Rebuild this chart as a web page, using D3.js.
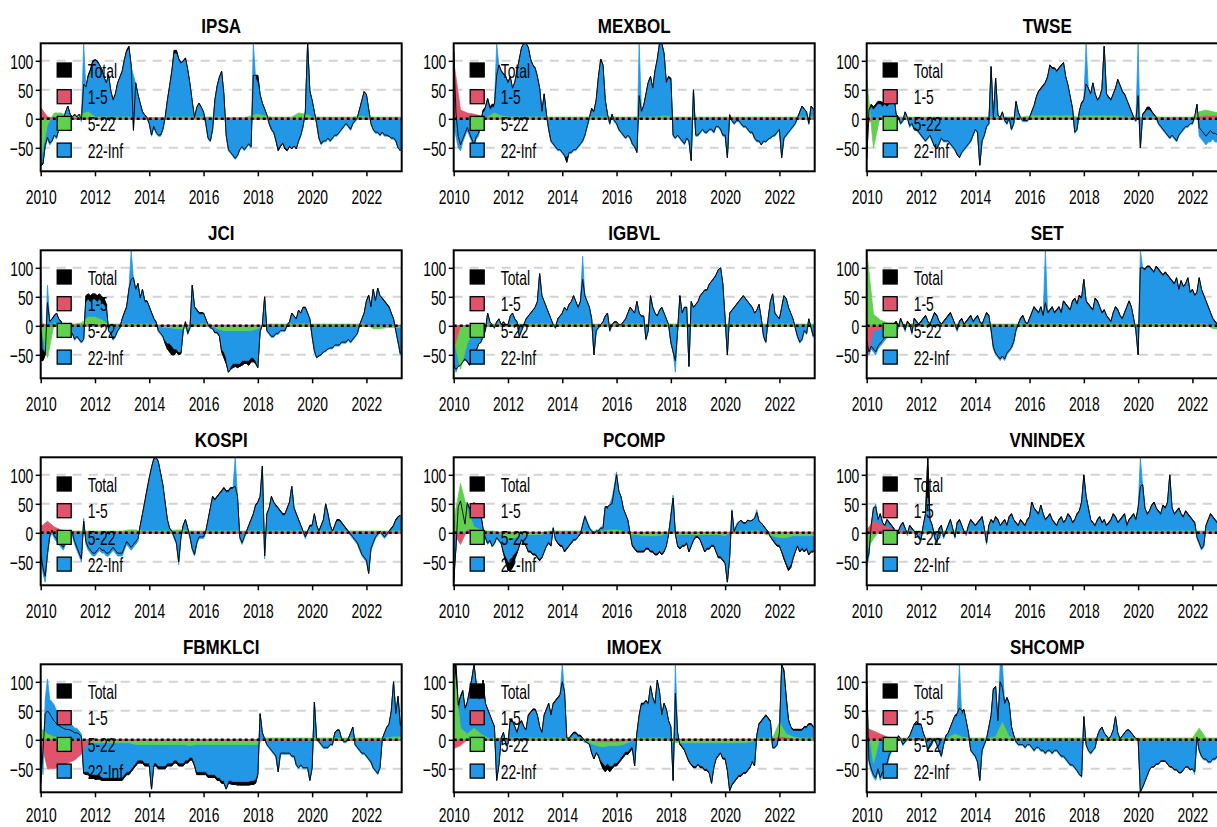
<!DOCTYPE html>
<html>
<head>
<meta charset="utf-8">
<script src="https://cdn.jsdelivr.net/npm/d3@7"></script>
<style>
  body { margin: 0; background: #fff; }
  svg { display: block; }
  text { font-family: "Liberation Sans", Arial, sans-serif; fill: #000; }
</style>
</head>
<body>
<svg id="chart" width="1217" height="827"></svg>
<script>
// Net connectedness by frequency band, 2010 - 2023.
// Monthly series (Jan 2010 .. Apr 2023, 160 values) for Total and 22-Inf,
// quarterly series (2010Q1 .. 2023Q2, 54 values) for the 1-5 and 5-22 bands.

const indexNames = ["IPSA", "MEXBOL", "TWSE", "JCI", "IGBVL", "SET",
                    "KOSPI", "PCOMP", "VNINDEX", "FBMKLCI", "IMOEX", "SHCOMP"];
const bandLabels = ["Total", "1-5", "5-22", "22-Inf"];
const bandColors = ["#000000", "#DF536B", "#61D04F", "#2297E6"];
const xTicks = [2010, 2012, 2014, 2016, 2018, 2020, 2022];
const yTicks = [-50, 0, 50, 100];

// ---------------- IPSA ----------------
const ipsaTotal = [
  -82,-78,-45,-32,-42,-38,-28,-32,-18,-12,-2,12,
  22,8,3,8,3,8,-2,60,55,75,85,100,
  102,100,93,86,72,62,76,48,33,43,62,72,
  82,102,118,125,92,-20,62,42,27,12,7,2,
  -8,-28,-13,-23,-28,-28,-18,2,32,57,83,118,
  118,104,97,100,105,85,60,30,2,20,27,20,
  12,-8,-33,-38,-18,32,57,72,82,42,-28,-53,
  -58,-63,-68,-63,-53,-48,-53,-48,-43,-48,75,75,
  75,42,27,17,7,-8,-18,-23,-38,-55,-48,-42,
  -52,-55,-48,-52,-47,-52,-38,-28,-12,12,130,48,
  32,12,-8,-33,-43,-38,-38,-33,-38,-33,-28,-28,
  -23,-18,-13,-8,-13,-18,-8,-3,2,17,32,47,
  42,17,-8,-18,-23,-23,-28,-23,-28,-28,-30,-33,
  -33,-38,-50,-55];
const ipsaLong = [
  -80,-75,-50,-35,-45,-40,-30,-35,-20,-15,-5,10,
  20,5,0,5,0,5,-5,130,50,70,80,95,
  100,97,92,85,70,60,75,45,30,40,60,70,
  80,100,115,120,90,75,60,40,25,10,5,0,
  -10,-30,-15,-25,-30,-30,-20,0,30,55,80,112,
  112,100,95,98,102,82,58,28,0,18,25,18,
  10,-10,-35,-40,-20,30,55,70,80,40,-30,-55,
  -60,-65,-70,-65,-55,-50,-55,-50,-45,-50,130,70,
  60,40,25,15,5,-10,-20,-25,-35,-50,-45,-40,
  -48,-52,-45,-50,-45,-50,-40,-30,-15,10,130,45,
  30,10,-10,-35,-45,-40,-40,-35,-40,-35,-30,-30,
  -25,-20,-15,-10,-15,-20,-10,-5,0,15,30,45,
  40,15,-10,-20,-25,-25,-30,-25,-30,-30,-30,-35,
  -35,-40,-50,-55];
const ipsaShort = [
  20,3,2,2, 1,1,1,1, 1,1,1,1, 1,1,1,1, 1,1,1,1, 1,1,1,1, 1,1,1,1,
  1,1,1,1, 1,1,1,1, 1,1,1,1, 1,1,1,1, 1,1,1,1, 1,1,1,1, 1,1];
const ipsaMedium = [
  -70,-10,10,10, 5,5,8,12, 3,3,3,3, 3,3,2,2, 2,2,2,3, 3,3,3,3, 3,3,3,2,
  2,2,2,5, 8,5,3,3, 3,3,10,8, 3,3,3,3, 3,3,3,5, 3,3,3,3, 3,3];

// ---------------- MEXBOL ----------------
const mexbolTotal = [
  115,10,-30,-45,-35,-25,-15,-25,-35,-45,-30,-25,
  -5,15,20,35,20,25,25,75,93,83,78,73,
  63,73,53,63,83,103,123,130,130,123,103,93,
  88,73,53,13,43,8,-18,-38,-43,-48,-53,-53,
  -58,-63,-75,-58,-58,-53,-53,-48,-43,-38,-28,-13,
  2,18,13,33,73,103,93,33,8,-8,8,-3,
  -8,-18,-23,-28,-33,-28,-33,-43,-48,-58,40,13,
  23,43,63,73,53,83,103,130,130,113,63,73,
  70,-28,-33,-28,-33,-38,-43,-33,-38,-72,50,-28,
  -28,-23,-18,-23,-23,-18,-18,-23,-13,-13,-18,-28,
  -28,-67,7,-3,-8,-3,-3,-8,-13,-13,-18,-23,
  -23,-33,-38,-38,-45,-38,-40,-35,-33,-30,-28,-23,
  -18,-67,-33,-28,-23,-18,-13,-8,2,12,22,17,
  12,-8,22,17];
const mexbolLong = [
  -10,-30,-50,-55,-40,-30,-20,-30,-40,-45,-35,-30,
  -10,10,15,30,15,20,20,130,90,80,75,70,
  60,70,50,60,80,100,120,130,130,120,100,90,
  85,70,50,10,40,5,-20,-40,-45,-50,-55,-55,
  -60,-65,-65,-60,-60,-55,-55,-50,-45,-40,-30,-15,
  0,15,10,30,70,100,90,30,5,-10,5,-5,
  -10,-20,-25,-30,-35,-30,-35,-45,-50,-55,130,10,
  20,40,60,70,50,80,100,130,130,110,60,70,
  65,-30,-35,-30,-35,-40,-45,-35,-40,-70,50,-30,
  -30,-25,-20,-25,-25,-20,-20,-25,-15,-15,-20,-30,
  -30,-65,5,-5,-10,-5,-5,-10,-15,-15,-20,-25,
  -25,-35,-40,-40,-45,-40,-40,-35,-35,-30,-30,-25,
  -20,-65,-35,-30,-25,-20,-15,-10,0,10,20,15,
  10,-10,20,15];
const mexbolShort = [
  100,15,10,8, 5,2,1,1, 1,1,1,1, 1,1,1,1, 1,1,1,1, 1,1,1,1, 1,1,1,1,
  1,1,1,1, 1,1,1,1, 1,1,1,1, 1,1,1,1, 1,1,1,1, 1,1,1,1, 1,1];
const mexbolMedium = [
  25,5,3,3, 3,3,10,5, 3,3,3,3, 3,3,3,3, 3,3,3,3, 3,3,3,3, 3,3,3,3,
  3,3,3,5, 3,3,3,3, 3,3,3,3, 3,3,3,3, 3,3,3,3, 3,3,3,3, 3,3];

// ---------------- TWSE ----------------
const twseTotal = [
  -70,15,25,20,25,30,30,28,30,28,30,32,
  42,8,3,-8,-3,12,2,-12,-8,-18,-18,-23,
  -28,-33,-38,-33,-28,-38,-48,-52,-43,-33,-38,-38,
  -38,-43,-48,-53,-62,-67,-58,-53,-48,-43,-38,-28,
  -18,-23,-80,-38,-28,-13,-8,90,2,70,7,2,
  12,-3,-8,2,-18,-8,30,12,2,-3,-3,-3,
  2,13,23,38,48,53,58,63,73,93,88,88,
  83,88,93,97,73,58,38,18,-23,-18,13,28,
  33,60,53,43,62,43,33,38,52,125,43,38,
  33,43,53,68,58,48,43,33,23,13,3,-3,
  40,-50,8,13,20,20,13,8,3,-8,-13,-18,
  -23,-28,-33,-28,-33,-38,-28,-23,-18,-13,-13,-8,
  -8,3,25,-15,-20,-25,-30,-25,-20,-25,-25,-28,
  -25,-22,-28,-25];
const twseLong = [
  -10,10,20,15,20,25,25,20,25,20,25,30,
  40,5,0,-10,-5,10,0,-15,-10,-20,-20,-25,
  -30,-35,-40,-35,-30,-40,-45,-50,-45,-35,-40,-40,
  -40,-45,-50,-55,-60,-65,-60,-55,-50,-45,-40,-30,
  -20,-25,-80,-40,-30,-15,-10,90,0,70,5,0,
  10,-5,-10,0,-20,-10,30,10,0,-5,-5,-5,
  0,10,20,35,45,50,55,60,70,90,85,85,
  80,85,90,95,70,55,35,15,-25,-20,10,25,
  30,130,50,40,60,40,30,35,50,125,40,35,
  30,40,50,65,55,45,40,30,20,10,0,-5,
  130,-50,5,10,15,15,10,5,0,-10,-15,-20,
  -25,-30,-35,-30,-35,-40,-30,-25,-20,-15,-15,-10,
  -10,0,25,-30,-35,-40,-45,-40,-40,-35,-40,-40,
  -35,-30,-40,-35];
const twseShort = [
  -10,1,1,1, 1,1,1,1, 1,1,1,1, 1,1,1,1, 1,1,1,1, 1,1,1,1, 1,1,1,1,
  1,1,1,1, 1,1,1,1, 1,1,1,1, 1,1,1,1, 1,1,1,1, 1,3,5,5, 5,5];
const twseMedium = [
  70,-50,5,3, 3,3,3,3, 3,3,3,3, 3,3,3,3, 3,3,3,3, 3,3,3,3, 5,5,5,5,
  5,5,5,3, 5,5,5,5, 5,5,3,3, 3,3,3,3, 3,3,3,3, 3,12,15,12, 10,8];

// ---------------- JCI ----------------
const jciTotal = [
  -60,-60,-50,40,8,12,18,22,12,8,-3,-3,
  -8,-18,-13,-23,-18,-23,-28,-23,52,55,52,55,
  55,52,55,50,48,35,-8,-13,-23,-18,-8,-3,
  12,23,33,63,80,83,63,73,48,63,43,43,
  33,23,13,7,-8,-13,-18,-30,-40,-45,-50,-50,
  -45,-50,-48,-8,7,-13,-3,70,33,28,23,23,
  22,12,2,-3,-5,-12,-12,-18,-45,-55,-65,-80,
  -75,-72,-70,-72,-70,-68,-65,-65,-68,-62,-62,-65,
  -72,-10,2,50,-8,-13,-18,-18,-13,-13,-8,-8,
  -8,2,7,22,17,12,27,22,32,32,22,12,
  -18,-43,-55,-52,-50,-45,-43,-40,-38,-38,-33,-33,
  -33,-28,-28,-28,-23,-28,-23,-18,-13,2,12,22,
  43,53,33,63,43,65,52,48,43,38,33,22,
  12,-8,-28,-48];
const jciLong = [
  100,-40,-45,70,5,10,15,20,10,5,-5,-5,
  -10,-20,-15,-25,-20,-25,-30,-25,40,45,40,45,
  45,40,45,40,35,30,-10,-15,-25,-20,-10,-5,
  10,20,30,60,130,80,60,70,45,60,40,40,
  30,20,10,5,-10,-15,-20,-25,-30,-30,-35,-40,
  -40,-45,-45,-10,5,-15,-5,70,30,25,20,20,
  20,10,0,-5,-5,-10,-10,-15,-40,-45,-55,-80,
  -70,-65,-65,-65,-65,-60,-60,-60,-60,-55,-55,-60,
  -70,-10,0,50,-10,-15,-20,-20,-15,-15,-10,-10,
  -10,0,5,20,15,10,25,20,30,30,20,10,
  -20,-45,-55,-50,-50,-45,-45,-40,-40,-40,-35,-35,
  -35,-30,-30,-30,-25,-30,-25,-20,-15,0,10,20,
  40,50,30,60,40,65,50,45,40,35,30,20,
  10,-10,-30,-50];
const jciShort = [
  5,1,1,1, 1,1,1,1, 1,1,1,1, 1,1,1,1, 1,1,1,1, 1,1,1,1, 1,1,1,1,
  1,1,1,1, 1,1,1,1, 1,1,1,1, 1,1,1,1, 1,1,1,1, 1,1,1,1, 1,1];
const jciMedium = [
  0,-55,5,3, 3,3,5,15, 15,10,3,3, 3,3,3,3, 3,3,-3,-3, -5,-5,-3,3, 3,3,-5,-8,
  -8,-8,-8,-8, -5,3,3,3, 3,3,3,3, 3,3,3,3, 3,3,3,3, 3,-5,-5,-3, -3,-3];

// ---------------- IGBVL ----------------
const igbvlTotal = [
  -70,-75,-70,-68,-62,-58,-62,-68,-58,-52,-42,-32,
  -28,-18,-8,22,7,2,-3,7,12,2,7,2,
  2,17,22,12,7,-18,-8,2,12,17,22,27,
  32,42,90,52,42,32,22,12,2,-3,12,17,
  22,32,27,37,42,52,42,32,42,80,52,42,
  32,12,-50,-8,-3,2,7,17,22,-8,2,7,
  7,2,2,7,12,22,32,27,22,42,22,17,
  17,-23,-8,52,32,22,17,27,32,22,12,2,
  -28,-45,-60,-8,52,22,32,32,-70,42,32,37,
  42,52,57,62,62,72,77,82,88,97,100,72,
  12,-50,22,27,32,37,42,47,52,47,42,37,
  32,22,27,37,12,-18,-28,12,42,55,22,17,
  12,32,52,47,32,22,12,-3,-18,-28,-23,-8,
  -13,12,-3,-18];
const igbvlLong = [
  -50,-80,-70,-65,-60,-55,-60,-65,-55,-50,-40,-30,
  -30,-20,-10,20,5,0,-5,5,10,0,5,0,
  0,15,20,10,5,-20,-10,0,10,15,20,25,
  30,40,90,50,40,30,20,10,0,-5,10,15,
  20,30,25,35,40,50,40,30,40,120,50,40,
  30,10,-50,-10,-5,0,5,15,20,-10,0,5,
  5,0,0,5,10,20,30,25,20,40,20,15,
  15,-25,-10,50,30,20,15,25,30,20,10,0,
  -30,-45,-80,-10,50,20,30,30,-70,40,30,35,
  40,50,55,60,60,70,75,80,85,95,100,70,
  10,-50,20,25,30,35,40,45,50,45,40,35,
  30,20,25,35,10,-20,-30,10,40,55,20,15,
  10,30,50,45,30,20,10,-5,-20,-30,-25,-10,
  -15,10,-5,-20];
const igbvlShort = [
  -40,0,0,0, 1,1,1,1, 1,1,1,1, 1,1,1,1, 1,1,1,1, 1,1,1,1, 1,1,1,1,
  1,1,1,1, 1,1,1,1, 1,1,1,1, 1,1,1,1, 1,1,1,1, 1,1,1,1, 1,1];
const igbvlMedium = [
  -20,-75,-30,-10, 0,3,3,3, 3,3,3,3, 3,3,3,3, 3,3,3,3, 3,3,3,3, 3,3,3,3,
  3,3,3,3, 3,3,3,3, 3,3,3,3, 3,3,3,3, 3,3,3,3, 3,3,3,3, 3,3];

// ---------------- SET ----------------
const setTotal = [
  -25,-45,-35,-40,-45,-35,-30,-25,-20,-15,-7,-2,
  3,8,-2,13,3,-7,8,3,-12,13,8,3,
  8,13,18,8,3,13,23,18,8,3,8,13,
  18,23,13,3,-7,8,13,3,8,13,18,8,
  13,18,8,3,13,23,18,-7,-37,-47,-52,-57,
  -52,-57,-47,-42,-37,-27,-7,3,13,18,8,3,
  13,23,33,28,23,33,18,40,23,28,33,23,
  28,33,23,43,38,33,28,43,48,38,53,48,
  80,43,38,33,28,48,43,33,23,28,18,13,
  8,23,33,28,18,13,23,33,43,33,13,-7,
  -50,100,100,98,103,103,98,93,103,98,93,88,
  93,88,83,78,73,83,63,78,68,73,83,58,
  63,53,58,83,63,53,43,33,23,13,8,3,
  3,-2,-7,-2];
const setLong = [
  -30,-50,-40,-45,-50,-40,-35,-30,-25,-20,-10,-5,
  0,5,-5,10,0,-10,5,0,-15,10,5,0,
  5,10,15,5,0,10,20,15,5,0,5,10,
  15,20,10,0,-10,5,10,0,5,10,15,5,
  10,15,5,0,10,20,15,-10,-40,-50,-55,-60,
  -55,-60,-50,-45,-40,-30,-10,0,10,15,5,0,
  10,20,30,25,20,30,15,130,20,25,30,20,
  25,30,20,40,35,30,25,40,45,35,50,45,
  80,40,35,30,25,45,40,30,20,25,15,10,
  5,20,30,25,15,10,20,30,40,30,10,-10,
  -50,130,100,95,100,100,95,90,100,95,90,85,
  90,85,80,75,70,80,60,75,65,70,80,55,
  60,50,55,80,60,50,40,30,20,10,5,0,
  0,-5,-10,-5];
const setShort = [
  -60,-10,-5,-2, 1,1,1,1, 1,1,1,1, 1,1,1,1, 1,1,1,1, 1,1,1,1, 1,1,1,1,
  1,1,1,1, 1,1,1,1, 1,1,1,1, 1,1,1,1, 1,1,1,1, 1,1,1,1, 1,1];
const setMedium = [
  130,20,10,5, 3,3,3,3, 3,3,3,3, 3,3,3,3, 3,3,3,3, 3,3,3,3, 3,3,3,3,
  3,3,3,3, 3,3,3,3, 3,3,3,3, 3,3,3,3, 3,3,3,3, 3,3,3,-5, -5,-5];

// ---------------- KOSPI ----------------
const kospiTotal = [
  -35,-60,-75,-35,-5,5,-5,-10,-15,-20,-25,-15,
  -15,-5,0,-15,-25,-35,-45,20,-15,-25,-30,-35,
  -35,-30,-25,-30,-30,-35,-35,-30,-25,-30,-35,-35,
  -35,-25,-15,-20,-25,-20,-15,-10,13,33,53,75,
  95,113,128,130,123,103,83,53,23,8,3,-7,
  -17,-50,-7,13,23,8,-7,-27,-37,-17,-7,-7,
  -7,3,23,43,63,58,63,68,73,78,73,73,
  78,78,80,63,-7,-17,-7,3,13,23,33,48,
  53,63,115,-40,33,43,63,53,48,43,38,33,
  33,43,53,80,43,33,23,13,3,-7,3,13,
  13,33,13,3,13,23,50,33,13,3,13,23,
  23,18,13,8,3,-2,-7,-12,-17,-27,-37,-42,
  -47,-70,-27,-17,-7,-2,3,-2,-7,-2,3,8,
  13,23,28,30];
const kospiLong = [
  -40,-70,-85,-40,-10,0,-10,-15,-20,-25,-30,-20,
  -20,-10,-5,-20,-30,-40,-50,25,-20,-30,-35,-40,
  -40,-35,-30,-35,-35,-40,-40,-35,-30,-35,-40,-40,
  -40,-30,-20,-25,-30,-25,-20,-15,10,30,50,70,
  90,110,125,130,120,100,80,50,20,5,0,-10,
  -20,-55,-10,10,20,5,-10,-30,-40,-20,-10,-10,
  -10,0,20,40,60,55,60,65,70,75,70,70,
  75,75,130,60,-10,-20,-10,0,10,20,30,45,
  50,60,115,-45,30,40,60,50,45,40,35,30,
  30,40,50,80,40,30,20,10,0,-10,0,10,
  10,30,10,0,10,20,50,30,10,0,10,20,
  20,15,10,5,0,-5,-10,-15,-20,-30,-40,-45,
  -50,-70,-30,-20,-10,-5,0,-5,-10,-5,0,5,
  10,20,25,30];
const kospiShort = [
  10,20,10,5, 3,2,1,1, 1,1,1,1, 1,1,1,1, 1,1,1,1, 1,1,1,1, 1,1,1,1,
  1,1,1,1, 1,1,1,1, 1,1,1,1, 1,1,1,1, 1,1,1,1, 1,1,1,1, 1,1];
const kospiMedium = [
  15,5,3,3, 3,3,3,3, 3,3,3,3, 3,5,5,3, 3,3,3,3, 5,5,3,3, 3,3,3,3,
  3,3,3,3, 3,3,3,3, 3,3,3,3, 3,3,3,3, 3,3,3,3, 3,3,3,3, 3,3];

// ---------------- PCOMP ----------------
const pcompTotal = [
  -85,-25,45,55,35,15,52,42,47,52,47,32,
  32,7,-8,-18,-13,-23,-18,-8,-13,-18,-35,-50,
  -65,-65,-60,-45,-35,-23,-12,-18,-23,-33,-33,-38,
  -38,-43,-48,-43,-33,-23,-18,-23,8,-12,-18,-23,
  -23,-33,-28,-23,-18,-13,-12,-7,-2,13,28,18,
  8,3,-2,3,3,8,8,45,45,48,50,75,
  100,72,62,42,32,22,-2,-23,-28,-33,-33,-33,
  -33,-28,-28,-33,-33,-38,-38,-33,-38,-33,-23,-3,
  28,60,-2,-23,-28,-23,-23,-18,-33,-23,-13,-8,
  -8,-13,-23,-33,-28,-28,-23,-23,-33,-43,-43,-48,
  -53,-85,-43,38,2,12,18,22,18,17,22,20,
  22,25,35,20,17,12,7,2,-7,-13,-18,-23,
  -23,-33,-45,-55,-65,-60,-45,-33,-23,-33,-28,-33,
  -28,-38,-33,-33];
const pcompLong = [
  -60,-30,40,50,30,10,50,40,45,50,45,30,
  30,5,-10,-20,-15,-25,-20,-10,-15,-20,-30,-40,
  -50,-50,-40,-35,-30,-20,-10,-15,-20,-30,-30,-35,
  -35,-40,-45,-40,-30,-20,-15,-20,10,-10,-15,-20,
  -20,-30,-25,-20,-15,-10,-10,-5,0,15,30,20,
  10,5,0,5,5,10,10,45,40,50,60,80,
  105,70,60,40,30,20,0,-20,-25,-30,-30,-30,
  -30,-25,-25,-30,-30,-35,-35,-30,-35,-30,-20,0,
  30,65,0,-20,-25,-20,-20,-15,-30,-20,-10,-5,
  -5,-10,-20,-30,-25,-25,-20,-20,-30,-40,-40,-45,
  -50,-85,-40,40,0,15,20,20,15,15,20,20,
  20,25,40,20,15,10,5,0,-5,-10,-15,-20,
  -20,-30,-40,-50,-60,-55,-40,-30,-20,-30,-25,-30,
  -25,-35,-30,-30];
const pcompShort = [
  0,-20,5,5, 3,2,1,1, 1,1,1,1, 1,1,1,1, 1,1,1,1, 1,1,1,1, 1,1,1,1,
  1,1,1,1, 1,1,1,1, 1,1,1,1, 1,1,1,1, 1,1,1,1, 1,1,1,1, 1,1];
const pcompMedium = [
  20,85,40,10, 5,3,3,-3, -10,-8,-3,-3, -3,-3,3,3, 3,3,3,3, 3,3,3,5, 5,3,-3,-3,
  -5,-5,-5,-3, 3,-3,-3,-3, -3,-3,-3,-3, -5,3,3,3, 3,3,-3,-5, -8,-8,-5,-5, -5,-5];

// ---------------- VNINDEX ----------------
const vnindexTotal = [
  -50,-35,13,43,45,23,33,18,13,23,18,13,
  8,-7,3,13,18,8,-2,13,8,3,-2,-7,
  -12,13,33,130,23,13,-7,-17,8,13,-7,3,
  13,23,8,-7,18,23,13,3,-2,13,23,18,
  13,18,23,28,8,-17,13,23,18,28,23,13,
  18,23,13,28,33,23,18,13,23,18,13,23,
  28,53,43,38,33,48,33,23,28,33,23,18,
  13,23,28,18,23,33,28,18,23,33,38,53,
  100,63,43,23,18,13,23,28,18,23,13,18,
  23,33,28,18,23,28,33,13,23,28,33,23,
  43,80,83,43,33,38,48,53,43,38,33,48,
  43,53,100,43,33,38,43,33,28,38,33,28,
  23,18,-7,-17,-27,-22,13,23,33,28,23,18,
  13,18,23,18];
const vnindexLong = [
  -60,-40,10,40,50,20,30,15,10,20,15,10,
  5,-10,0,10,15,5,-5,10,5,0,-5,-10,
  -15,10,30,60,20,10,-10,-20,5,10,-10,0,
  10,20,5,-10,15,20,10,0,-5,10,20,15,
  10,15,20,25,5,-20,10,20,15,25,20,10,
  15,20,10,25,30,20,15,10,20,15,10,20,
  25,50,40,35,30,45,30,20,25,30,20,15,
  10,20,25,15,20,30,25,15,20,30,35,50,
  90,60,40,20,15,10,20,25,15,20,10,15,
  20,30,25,15,20,25,30,10,20,25,30,20,
  40,130,80,40,30,35,45,50,40,35,30,45,
  40,50,100,40,30,35,40,30,25,35,30,25,
  20,15,-10,-20,-30,-25,10,20,30,25,20,15,
  10,15,20,15];
const vnindexShort = [
  5,20,15,10, 5,3,2,1, 1,1,1,1, 1,1,1,1, 1,1,1,1, 1,1,1,1, 1,1,1,1,
  1,1,1,1, 1,1,1,1, 1,1,1,1, 1,1,1,1, 1,1,1,1, 1,1,1,1, 1,1];
const vnindexMedium = [
  -30,-10,5,3, 3,3,3,3, 3,3,3,3, 3,3,3,3, 3,3,3,3, 3,3,3,3, 3,3,3,3,
  3,3,3,3, 3,3,3,3, 3,3,3,3, 3,3,3,3, 3,3,3,3, 3,3,3,3, 3,3];

// ---------------- FBMKLCI ----------------
const fbmklciTotal = [
  -75,-20,45,50,45,38,32,28,25,22,20,18,
  18,17,15,12,12,10,5,-58,-60,-60,-65,-65,
  -68,-68,-68,-70,-70,-70,-70,-70,-70,-70,-70,-70,
  -70,-65,-60,-60,-55,-50,-45,-40,-40,-40,-45,-45,
  -45,-85,-45,-45,-50,-50,-50,-50,-45,-45,-45,-40,
  -40,-45,-45,-45,-40,-40,-35,-35,-45,-60,-60,-60,
  -60,-60,-65,-65,-65,-65,-70,-70,-75,-75,-85,-75,
  -76,-77,-77,-78,-78,-78,-78,-78,-78,-77,-77,-75,
  -60,45,12,2,-8,-13,-18,-23,-28,-55,-23,-23,
  -23,-23,-23,-28,-28,-43,-48,-43,-48,-48,-48,-70,
  -48,65,2,-3,-8,-13,-13,-13,-8,-8,12,17,
  17,2,-3,-3,2,12,22,-8,-13,-18,-23,-23,
  -28,-33,-38,-48,-53,-58,-48,2,12,22,27,50,
  100,45,75,25];
const fbmklciLong = [
  50,-60,70,105,70,65,60,50,45,40,35,30,
  30,25,25,20,20,15,10,-55,-55,-55,-60,-60,
  -60,-60,-60,-65,-65,-65,-65,-65,-65,-65,-65,-65,
  -65,-60,-55,-55,-50,-45,-40,-35,-35,-35,-40,-40,
  -40,-85,-40,-40,-45,-45,-45,-45,-40,-40,-40,-35,
  -35,-40,-40,-40,-35,-35,-30,-30,-40,-55,-55,-55,
  -55,-55,-60,-60,-60,-60,-65,-65,-70,-70,-85,-70,
  -70,-72,-72,-72,-72,-72,-72,-72,-72,-70,-70,-68,
  -55,45,10,0,-10,-15,-20,-25,-30,-55,-25,-25,
  -25,-25,-25,-30,-30,-45,-50,-45,-50,-50,-50,-70,
  -50,65,0,-5,-10,-15,-15,-15,-10,-10,10,15,
  15,0,-5,-5,0,10,20,-10,-15,-20,-25,-25,
  -30,-35,-40,-50,-55,-60,-50,0,10,20,25,50,
  100,50,75,20];
const fbmklciShort = [
  0,-50,-50,-45, -40,-35,-25,-3, -1,-1,-1,-1, -1,-1,-1,-1, -1,-1,-1,-1, -1,-1,-1,-1, -1,-1,-1,-1,
  -1,-1,-1,-1, -1,-1,-1,-1, -1,-1,-1,-1, -1,-1,-1,-1, -1,-1,-1,-1, -1,-1,-1,-1, -1,-1];
const fbmklciMedium = [
  20,10,5,5, 5,0,-5,-5, -5,-5,-5,-5, -5,-5,-8,-8, -8,-8,-8,-8, -8,-8,-10,-8, -8,-8,-8,-8,
  -8,-8,-8,-8, -8,3,3,3, 3,3,3,3, 3,3,3,3, 3,3,3,3, 3,3,3,3, 5,5];

// ---------------- IMOEX ----------------
const imoexTotal = [
  130,130,60,75,85,55,65,85,105,130,95,75,
  75,103,63,53,43,33,23,-70,-43,3,13,-7,
  -7,35,33,23,13,28,33,23,18,43,48,53,
  53,43,23,13,43,53,63,43,63,68,73,78,
  100,83,3,3,8,13,13,8,8,3,-2,-5,
  -8,-23,-33,-23,-28,-40,-50,-55,-50,-55,-50,-45,
  -45,-40,-35,-30,-25,-25,-20,-15,-45,12,43,63,
  63,68,63,93,73,63,103,83,43,63,53,33,
  23,-70,80,12,-8,-13,-18,-28,-38,-43,-48,-48,
  -43,-48,-48,-53,-53,-58,-75,-48,-33,-28,-23,-33,
  -33,-53,-88,-78,-73,-68,-63,-63,-58,-58,-53,-48,
  -38,-45,8,28,33,38,43,38,33,-13,-13,-8,
  12,130,120,75,35,23,18,18,18,18,18,23,
  23,28,28,23];
const imoexLong = [
  130,80,40,70,80,50,60,80,100,130,90,70,
  70,100,60,50,40,30,20,-70,-40,0,10,-10,
  -10,30,30,20,10,25,30,20,15,40,45,50,
  50,40,20,10,40,50,60,40,60,65,70,75,
  130,80,0,0,5,10,10,5,5,0,-5,-5,
  -5,-20,-30,-20,-25,-35,-40,-45,-40,-45,-45,-40,
  -40,-35,-30,-25,-20,-20,-15,-10,-45,10,40,60,
  60,65,60,90,70,60,100,80,40,60,50,30,
  20,-70,130,10,-5,-10,-15,-25,-35,-40,-45,-45,
  -40,-45,-45,-50,-50,-55,-75,-45,-30,-25,-20,-30,
  -30,-50,-85,-75,-70,-65,-60,-60,-55,-55,-50,-45,
  -35,-45,5,25,30,35,40,35,30,-15,-15,-10,
  10,130,110,60,30,20,15,15,15,15,15,20,
  20,25,25,20];
const imoexShort = [
  -15,-10,0,0, 1,1,1,1, 1,1,1,1, 1,1,1,1, 1,1,1,1, 1,-2,-3,-3, -3,-2,1,1,
  1,1,1,1, 1,1,1,1, 1,1,1,1, 1,1,1,1, 1,1,1,1, 5,3,1,1, 1,1];
const imoexMedium = [
  130,20,10,20, 10,3,3,3, 3,3,3,3, 3,3,3,3, 3,3,3,3, -5,-10,-12,-10, -10,-8,-3,3,
  3,3,3,3, -3,-5,-5,-5, -5,-5,-5,-5, -5,-5,-5,-5, -3,3,3,3, 30,10,5,3, 3,3];

// ---------------- SHCOMP ----------------
const shcompTotal = [
  100,-35,-50,-60,-65,-50,-65,-55,-50,-40,-25,-18,
  -13,-8,7,2,-8,-3,2,7,17,27,32,27,
  27,12,2,-18,-8,-3,2,-8,-18,-28,-8,7,
  12,22,32,42,45,55,50,52,32,12,-18,-23,
  -28,-38,-70,-18,-8,2,22,42,88,92,33,100,
  90,63,73,63,23,8,-3,-8,-8,-8,-13,-8,
  -8,-13,-18,-13,-13,-18,-18,-23,-18,-18,-23,-18,
  -18,-23,-28,-28,-33,-38,-43,-43,-48,-53,-60,-63,
  40,-8,-18,-23,-18,-13,7,17,22,12,7,2,
  7,17,40,12,2,7,12,17,17,12,7,2,
  2,-90,-82,-72,-62,-52,-47,-47,-42,-42,-37,-37,
  -37,-42,-47,-47,-52,-52,-57,-57,-52,-47,-47,-52,
  -50,-55,5,-18,-28,-33,-33,-38,-38,-33,-33,-28,
  -28,-28,-23,-23];
const shcompLong = [
  60,-40,-55,-65,-70,-55,-70,-60,-55,-45,-30,-20,
  -15,-10,5,0,-10,-5,0,5,15,25,30,25,
  25,10,0,-20,-10,-5,0,-10,-20,-30,-10,5,
  10,20,30,40,40,130,40,50,30,10,-20,-25,
  -30,-40,-70,-20,-10,0,20,40,85,90,30,130,
  130,60,70,60,20,5,-5,-10,-10,-10,-15,-10,
  -10,-15,-20,-15,-15,-20,-20,-25,-20,-20,-25,-20,
  -20,-25,-30,-30,-35,-40,-45,-45,-50,-55,-60,-65,
  40,-10,-20,-25,-20,-15,5,15,20,10,5,0,
  5,15,40,10,0,5,10,15,15,10,5,0,
  0,-90,-80,-70,-60,-50,-45,-45,-40,-40,-35,-35,
  -35,-40,-45,-45,-50,-50,-55,-55,-50,-45,-45,-50,
  -50,-60,0,-20,-30,-35,-35,-40,-40,-35,-35,-30,
  -30,-30,-25,-25];
const shcompShort = [
  20,15,10,5, 2,1,1,1, 1,1,1,1, 1,1,1,1, 1,1,1,1, 1,1,1,1, 1,1,1,1,
  1,1,1,1, 1,1,1,1, 1,1,1,1, 1,1,1,1, 1,1,1,1, 1,1,1,1, 1,1];
const shcompMedium = [
  40,-40,5,3, 3,3,3,3, 3,3,3,3, 3,10,5,3, 3,3,3,5, 30,5,3,3, 3,3,3,3,
  3,3,3,3, 3,3,3,3, 3,3,3,3, 3,3,3,3, 3,3,3,3, 3,20,3,3, 3,3];

const totals  = [ipsaTotal, mexbolTotal, twseTotal, jciTotal, igbvlTotal, setTotal,
                 kospiTotal, pcompTotal, vnindexTotal, fbmklciTotal, imoexTotal, shcompTotal];
const shorts  = [ipsaShort, mexbolShort, twseShort, jciShort, igbvlShort, setShort,
                 kospiShort, pcompShort, vnindexShort, fbmklciShort, imoexShort, shcompShort];
const mediums = [ipsaMedium, mexbolMedium, twseMedium, jciMedium, igbvlMedium, setMedium,
                 kospiMedium, pcompMedium, vnindexMedium, fbmklciMedium, imoexMedium, shcompMedium];
const longs   = [ipsaLong, mexbolLong, twseLong, jciLong, igbvlLong, setLong,
                 kospiLong, pcompLong, vnindexLong, fbmklciLong, imoexLong, shcompLong];

indexNames.forEach((n, k) => {
  if (totals[k].length !== 160 || longs[k].length !== 160 ||
      shorts[k].length !== 54 || mediums[k].length !== 54) {
    throw new Error(n + " lengths " + [totals[k].length, longs[k].length, shorts[k].length, mediums[k].length]);
  }
});

// ---------------- drawing ----------------
const svg = d3.select("#chart");
const W = 361, H = 128;
const colStep = 413, rowStep = 207, left0 = 40.7, top0 = 43.3;
const textScale = 0.66, titleScale = 0.81;

const x = d3.scaleLinear().domain([2010, 2023.3]).range([0, W]);
const y = d3.scaleLinear().domain([-90.5, 130.2]).range([H, 0]);

const monthly = arr => arr.map((v, i) => [2010 + i / 12, v]);
const quarterly = arr => arr.map((v, i) => [2010 + i / 4, v]);

const area = d3.area().x(d => x(d[0])).y0(y(0)).y1(d => y(d[1]));
const line = d3.line().x(d => x(d[0])).y(d => y(d[1]));

indexNames.forEach((name, k) => {
  const col = k % 3, row = Math.floor(k / 3);
  const g = svg.append("g")
    .attr("transform", `translate(${left0 + col * colStep},${top0 + row * rowStep})`);

  const clipId = "plot-clip-" + k;
  g.append("clipPath").attr("id", clipId)
    .append("rect").attr("width", W).attr("height", H);

  // dashed horizontal grid
  g.append("g").selectAll("line").data(yTicks).join("line")
    .attr("x1", 0).attr("x2", W)
    .attr("y1", d => y(d)).attr("y2", d => y(d))
    .attr("stroke", "#D3D3D3").attr("stroke-width", 2)
    .attr("stroke-dasharray", "9,7");

  const plot = g.append("g").attr("clip-path", `url(#${clipId})`);
  const totalPts = monthly(totals[k]);

  plot.append("path").datum(totalPts).attr("d", area)
    .attr("fill", bandColors[0]).attr("stroke", bandColors[0]).attr("stroke-width", 0.8);
  plot.append("path").datum(monthly(longs[k])).attr("d", area)
    .attr("fill", bandColors[3]).attr("stroke", bandColors[3]).attr("stroke-width", 0.8);
  plot.append("path").datum(quarterly(mediums[k])).attr("d", area)
    .attr("fill", bandColors[2]).attr("stroke", bandColors[2]).attr("stroke-width", 0.8);
  plot.append("path").datum(quarterly(shorts[k])).attr("d", area)
    .attr("fill", bandColors[1]).attr("stroke", bandColors[1]).attr("stroke-width", 0.8);
  plot.append("path").datum(totalPts).attr("d", line)
    .attr("fill", "none").attr("stroke", "#000").attr("stroke-width", 0.9);

  // dotted zero line
  g.append("line").attr("x1", 0).attr("x2", W).attr("y1", y(0)).attr("y2", y(0))
    .attr("stroke", "#000").attr("stroke-width", 2.5).attr("stroke-dasharray", "3,3");

  // axes (the bottom row sits against the page edge, so its labels ride a little higher)
  const xPad = row === 3 ? 10 : 13;
  const xAxis = g.append("g").attr("transform", `translate(0,${H})`)
    .call(d3.axisBottom(x).tickValues(xTicks).tickFormat(d3.format("d"))
      .tickSize(5).tickPadding(xPad));
  xAxis.select(".domain").remove();
  xAxis.selectAll("line").attr("stroke-width", 1.5);
  xAxis.selectAll("text").attr("font-size", 21)
    .attr("font-family", "'Liberation Sans', Arial, sans-serif")
    .attr("fill", "#000").attr("transform", `scale(${textScale},1)`);

  const yAxis = g.append("g")
    .call(d3.axisLeft(y).tickValues(yTicks).tickFormat(d3.format("d")).tickSize(5));
  yAxis.select(".domain").remove();
  yAxis.selectAll("line").attr("stroke-width", 1.5);
  yAxis.selectAll("text").attr("font-size", 21)
    .attr("font-family", "'Liberation Sans', Arial, sans-serif")
    .attr("fill", "#000")
    .attr("x", -7.4 / textScale).attr("dy", "0.36em")
    .attr("transform", `scale(${textScale},1)`);

  // frame
  g.append("rect").attr("width", W).attr("height", H)
    .attr("fill", "none").attr("stroke", "#000").attr("stroke-width", 2);

  // title
  g.append("text").attr("transform", `translate(${W / 2},-10) scale(${titleScale},1)`)
    .attr("text-anchor", "middle").attr("font-size", 21).attr("font-weight", "bold")
    .text(name);

  // legend
  const legend = g.append("g");
  bandLabels.forEach((lab, i) => {
    const cy = 26.7 + 26.7 * i;
    legend.append("rect").attr("x", 16.5).attr("y", cy - 7).attr("width", 14).attr("height", 14)
      .attr("fill", bandColors[i]).attr("stroke", "#000").attr("stroke-width", 1.3);
    legend.append("text").attr("transform", `translate(47,${cy + 7.5}) scale(${textScale},1)`)
      .attr("font-size", 21).text(lab);
  });
});
</script>
</body>
</html>
